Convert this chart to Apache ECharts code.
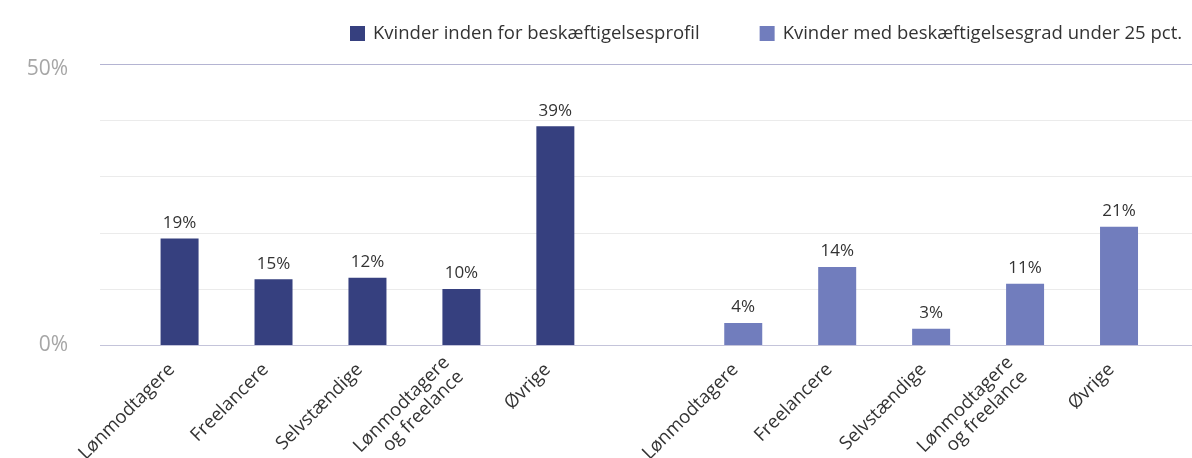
<!DOCTYPE html>
<html>
<head>
<meta charset="utf-8">
<script src="https://cdn.jsdelivr.net/npm/echarts@6/dist/echarts.min.js"></script>
<style>
  html, body { margin: 0; padding: 0; background: #fff; }
  #chart { width: 1192px; height: 458px; }
</style>
</head>
<body>
<div id="chart"></div>
<script>
// kategorier (midterste er tom afstand mellem de to grupper)
const categories = [
  "Lønmodtagere", "Freelancere", "Selvstændige", "Lønmodtagere\nog freelance", "Øvrige",
  "",
  "Lønmodtagere", "Freelancere", "Selvstændige", "Lønmodtagere\nog freelance", "Øvrige"
];
const seriesNames = [
  "Kvinder inden for beskæftigelsesprofil",
  "Kvinder med beskæftigelsesgrad under 25 pct."
];
// søjlehøjder
const profilValues = [19, 11.7, 12, 10, 39];
const profilLabels = ["19%", "15%", "12%", "10%", "39%"];
const under25Values = [3.9, 13.9, 2.9, 10.9, 21.1];
const under25Labels = ["4%", "14%", "3%", "11%", "21%"];
const yTicks = [0, 50];

const dark = "#36407f";
const light = "#717dbd";
const font = "Open Sans";

const data1 = profilValues.concat([null, null, null, null, null, null]);
const data2 = [null, null, null, null, null, null].concat(under25Values);
const labels1 = profilLabels.concat(["", "", "", "", "", ""]);
const labels2 = ["", "", "", "", "", ""].concat(under25Labels);

const chart = echarts.init(document.getElementById("chart"));
chart.setOption({
  animation: false,
  textStyle: { fontFamily: font },
  legend: {
    left: 345,
    top: 19,
    icon: "rect",
    itemWidth: 15,
    itemHeight: 15,
    itemGap: 60,
    textStyle: { fontSize: 18.5, color: "#333", fontFamily: font, padding: [0, 0, 0, 3] },
    data: seriesNames
  },
  grid: [
    { left: 100, right: 0, top: 64.5, bottom: 113, containLabel: false, outerBoundsMode: "none" },
    { left: 132.6, right: 26, top: 64.5, bottom: 113, containLabel: false, outerBoundsMode: "none" }
  ],
  xAxis: [
    { gridIndex: 0, type: "value", show: false, min: 0, max: 1 },
    {
      gridIndex: 1,
      type: "category",
      data: categories,
      axisLine: { show: false },
      axisTick: { show: false },
      axisLabel: {
        rotate: 45,
        interval: 0,
        margin: 14,
        padding: [0, 11, 0, 0],
        fontSize: 18.5,
        color: "#333",
        fontFamily: font,
        lineHeight: 20
      }
    }
  ],
  yAxis: [
    {
      gridIndex: 0,
      type: "value",
      min: 0,
      max: 50,
      interval: 10,
      axisLine: { show: false },
      axisTick: { show: false },
      axisLabel: {
        margin: 32,
        fontSize: 21,
        color: "#a6a6a6",
        fontFamily: font,
        formatter: v => {
          if (yTicks.indexOf(v) < 0) return "";
          return v === 50 ? "{hi|" + v + "%}" : v + "%";
        },
        rich: {
          hi: { fontSize: 21, color: "#a6a6a6", fontFamily: font, padding: [10, 0, 0, 0] }
        }
      },
      splitLine: {
        lineStyle: {
          color: ["#c4c4da", "#ebebeb", "#ebebeb", "#ebebeb", "#ebebeb", "#b4b4d2"],
          width: 1
        }
      }
    },
    { gridIndex: 1, type: "value", min: 0, max: 50, show: false, splitLine: { show: false } }
  ],
  series: [
    {
      name: seriesNames[0],
      type: "bar",
      xAxisIndex: 1,
      yAxisIndex: 1,
      stack: "g",
      barWidth: 38,
      itemStyle: { color: dark },
      label: {
        show: true,
        position: "top",
        distance: 7,
        fontSize: 17,
        color: "#333",
        fontFamily: font,
        formatter: p => labels1[p.dataIndex]
      },
      data: data1
    },
    {
      name: seriesNames[1],
      type: "bar",
      xAxisIndex: 1,
      yAxisIndex: 1,
      stack: "g",
      barWidth: 38,
      itemStyle: { color: light },
      label: {
        show: true,
        position: "top",
        distance: 7,
        fontSize: 17,
        color: "#333",
        fontFamily: font,
        formatter: p => labels2[p.dataIndex]
      },
      data: data2
    }
  ]
});
</script>
</body>
</html>
